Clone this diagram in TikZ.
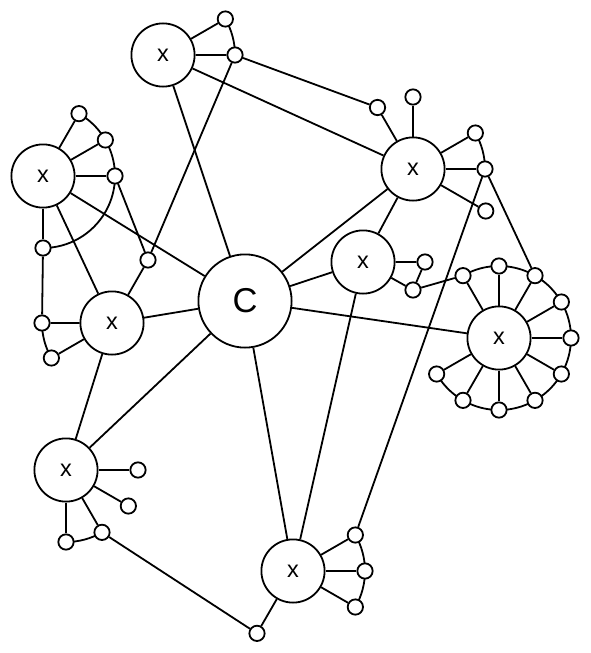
\documentclass[tikz,border=0pt]{standalone}
\usepackage{fontspec}
\setsansfont{Liberation Sans}
\usetikzlibrary{calc}

\begin{document}
\begin{tikzpicture}[x=1pt, y=-1pt, font=\sffamily, line width=1.8pt,
	hub/.style={circle, draw, fill=white, minimum size=63.2pt, inner sep=0pt, font=\sffamily\fontsize{23.5}{24}\selectfont},
	core/.style={circle, draw, fill=white, minimum size=93.2pt, inner sep=0pt, font=\sffamily\fontsize{34.5}{36}\selectfont},
	dot/.style={circle, draw, fill=white, minimum size=15.3pt, inner sep=0pt}]
	\def\R{72}
	\def\sat#1#2#3#4{\node[dot] (#1) at ([shift={(#3:#4)}]#2.center) {};}

	\useasboundingbox (0,0) rectangle (590,653);

	\node[core]	(C)	at (245,301)	{C};
	\node[hub]	(X1)	at (163,55)	{x};
	\node[hub]	(X2)	at (43,176)	{x};
	\node[hub]	(X3)	at (112,323)	{x};
	\node[hub]	(X4)	at (413,169)	{x};
	\node[hub]	(X5)	at (363,262)	{x};
	\node[hub]	(X6)	at (499,338)	{x};
	\node[hub]	(X7)	at (66,470)	{x};
	\node[hub]	(X8)	at (293,571)	{x};

	\draw	(X1.center) ++(-30:\R) arc[start angle=-30, end angle=0, radius=\R];
	\draw	(X2.center) ++(-60:\R) arc[start angle=-60, end angle=90, radius=\R];
	\draw	(X3.center) ++(180:70) arc[start angle=180, end angle=150, radius=70];
	\draw	(X4.center) ++(-30:\R) arc[start angle=-30, end angle=0, radius=\R];
	\draw	(X6.center) ++(-120:\R) arc[start angle=-120, end angle=150, radius=\R];
	\draw	(X7.center) ++(60:\R) arc[start angle=60, end angle=90, radius=\R];
	\draw	(X8.center) ++(-30:\R) arc[start angle=-30, end angle=30, radius=\R];

	\sat{a1}{X1}{-30}{\R}	\sat{a2}{X1}{0}{\R}
	\sat{b1}{X2}{-60}{\R}	\sat{b2}{X2}{-30}{\R}	\sat{b3}{X2}{0}{\R}	\sat{b4}{X2}{90}{\R}
	\node[dot]	(m)	at (148,260)	{};
	\sat{c1}{X3}{180}{70}	\sat{c2}{X3}{150}{70}
	\sat{d1}{X4}{-120}{71}	\sat{d2}{X4}{-90}{\R}	\sat{d3}{X4}{-30}{\R}	\sat{d4}{X4}{0}{\R}	\sat{d5}{X4}{30}{84}
	\node[dot]	(e1)	at (425,262)	{};
	\node[dot]	(e2)	at (413,290)	{};
	\foreach \a [count=\i] in {-120,-90,...,150}
		{\sat{f\i}{X6}{\a}{\R}}
	\sat{g1}{X7}{0}{\R}	\sat{g2}{X7}{30}{\R}	\sat{g3}{X7}{60}{\R}	\sat{g4}{X7}{90}{\R}
	\sat{h1}{X8}{-30}{\R}	\sat{h2}{X8}{0}{\R}	\sat{h3}{X8}{30}{\R}	\sat{h4}{X8}{120}{\R}

	\foreach \n in {X1,X2,X3,X4,X5,X6,X7,X8}
		\draw (C) -- (\n);

	\draw	(X1) -- (a1)	(X1) -- (a2)	(X1) -- (X4)	(a2) -- (d1)	(a2) -- (m);
	\foreach \n in {b1,b2,b3,b4}
		\draw (X2) -- (\n);
	\draw	(X2) -- (X3)	(b3) -- (m)	(b4) -- (c1);
	\draw	(X3) -- (c1)	(X3) -- (c2)	(X3) -- (X7)	(X3) -- (m);
	\foreach \n in {d1,d2,d3,d4,d5}
		\draw (X4) -- (\n);
	\draw	(X4) -- (X5)	(d4) -- (h1)	(d4) -- (f3);
	\draw	(X5) -- (e1)	(X5) -- (e2)	(e1) -- (e2)	(X5) -- (X8)	(e2) -- (f1);
	\foreach \i in {1,...,10}
		\draw (X6) -- (f\i);
	\foreach \n in {g1,g2,g3,g4}
		\draw (X7) -- (\n);
	\draw	(g3) -- (h4);
	\foreach \n in {h1,h2,h3,h4}
		\draw (X8) -- (\n);
\end{tikzpicture}
\end{document}
